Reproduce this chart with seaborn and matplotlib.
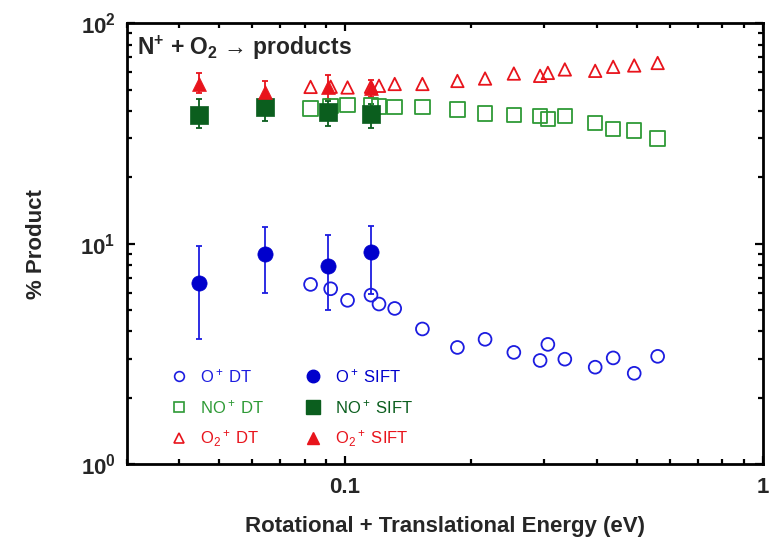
import numpy as np
import pandas as pd
import seaborn as sns
import matplotlib
matplotlib.use("Agg")
import matplotlib.pyplot as plt
from matplotlib.lines import Line2D
from matplotlib.ticker import LogLocator, FixedLocator, FixedFormatter, NullFormatter

# ---- data ----
dt_energy = [0.0827, 0.0924, 0.1014, 0.1154, 0.1206, 0.1315, 0.1532, 0.1858, 0.2164,
             0.2536, 0.2931, 0.3059, 0.3359, 0.3971, 0.4385, 0.4924, 0.5603]
dt_o_plus = [6.53, 6.24, 5.53, 5.84, 5.32, 5.08, 4.10, 3.38, 3.68,
             3.21, 2.95, 3.49, 2.99, 2.75, 3.03, 2.58, 3.08]
dt_no_plus = [41.0, 42.2, 42.5, 42.3, 42.0, 41.7, 41.7, 40.6, 38.9,
              38.4, 37.9, 36.8, 37.9, 35.3, 33.1, 32.6, 30.0]
dt_o2_plus = [51.4, 51.5, 51.1, 51.5, 52.0, 53.0, 53.0, 54.7, 56.1,
              59.1, 57.7, 59.5, 61.7, 60.8, 63.4, 64.3, 66.0]

sift_energy = [0.0446, 0.0643, 0.0911, 0.1156]
sift_o_plus = [6.60, 8.93, 7.91, 9.18]
sift_o_plus_lo = [3.68, 5.95, 4.98, 5.90]
sift_o_plus_hi = [9.71, 11.9, 10.9, 12.0]
sift_no_plus = [38.5, 41.5, 39.6, 38.9]
sift_no_plus_lo = [33.3, 36.0, 34.1, 33.3]
sift_no_plus_hi = [45.2, 44.8, 44.5, 43.2]
sift_o2_plus = [52.9, 48.8, 51.4, 50.6]
sift_o2_plus_lo = [48.0, 44.5, 45.5, 46.3]
sift_o2_plus_hi = [59.7, 54.8, 58.1, 55.5]

legend_labels_dt = ["O$^+$ DT", "NO$^+$ DT", "O$_2$$^+$ DT"]
legend_labels_sift = ["O$^+$ SIFT", "NO$^+$ SIFT", "O$_2$$^+$ SIFT"]
x_label = "Rotational + Translational Energy (eV)"
y_label = "% Product"
title_text = r"N$^{\mathbf{+}}$ + O$_{\mathbf{2}}$ → products"
xtick_values = [0.1, 1]
xtick_labels = ["0.1", "1"]
ytick_values = [1, 10, 100]
ytick_labels = [r"$\mathbf{10^0}$", r"$\mathbf{10^1}$", r"$\mathbf{10^2}$"]

# ---- style ----
sns.set_style("ticks")
plt.rcParams["font.family"] = ["Liberation Sans", "DejaVu Sans"]
plt.rcParams["mathtext.fontset"] = "custom"
plt.rcParams["mathtext.rm"] = "Liberation Sans"
plt.rcParams["mathtext.it"] = "Liberation Sans:italic"
plt.rcParams["mathtext.bf"] = "Liberation Sans:bold"

blue_open = "#1c1ce0"
blue_fill = "#0000cc"
green_open = "#2e9a36"
green_fill = "#0b5e1e"
red = "#e8141c"

fig = plt.figure(figsize=(7.72, 5.40), dpi=100)
ax = fig.add_axes([0.164, 0.1407, 0.824, 0.8163])
ax.set_xscale("log")
ax.set_yscale("log")

dt_df = pd.DataFrame({"energy": dt_energy, "O": dt_o_plus, "NO": dt_no_plus, "O2": dt_o2_plus})
sift_df = pd.DataFrame({"energy": sift_energy, "O": sift_o_plus, "NO": sift_no_plus, "O2": sift_o2_plus})

# open DT markers
sns.scatterplot(data=dt_df, x="energy", y="O", ax=ax, marker="o", s=85,
                facecolors="none", edgecolor=blue_open, linewidth=1.3, zorder=3)
sns.scatterplot(data=dt_df, x="energy", y="NO", ax=ax, marker="s", s=110,
                facecolors="none", edgecolor=green_open, linewidth=1.3, zorder=3)
sns.scatterplot(data=dt_df, x="energy", y="O2", ax=ax, marker="^", s=80,
                facecolors="none", edgecolor=red, linewidth=1.3, zorder=3)

# SIFT error bars
def errs(v, lo, hi):
    v = np.array(v); lo = np.array(lo); hi = np.array(hi)
    return np.vstack([v - lo, hi - v])

ax.errorbar(sift_energy, sift_o_plus, yerr=errs(sift_o_plus, sift_o_plus_lo, sift_o_plus_hi),
            fmt="none", ecolor=blue_open, elinewidth=1.3, capsize=2.5, capthick=1.3, zorder=2)
ax.errorbar(sift_energy, sift_no_plus, yerr=errs(sift_no_plus, sift_no_plus_lo, sift_no_plus_hi),
            fmt="none", ecolor=green_fill, elinewidth=1.3, capsize=2.5, capthick=1.3, zorder=2)
ax.errorbar(sift_energy, sift_o2_plus, yerr=errs(sift_o2_plus, sift_o2_plus_lo, sift_o2_plus_hi),
            fmt="none", ecolor=red, elinewidth=1.3, capsize=2.5, capthick=1.3, zorder=2)

# filled SIFT markers
sns.scatterplot(data=sift_df, x="energy", y="O", ax=ax, marker="o", s=120,
                color=blue_fill, edgecolor=blue_fill, linewidth=0.5, zorder=4)
sns.scatterplot(data=sift_df, x="energy", y="NO", ax=ax, marker="s", s=150,
                color=green_fill, edgecolor=green_fill, linewidth=0.5, zorder=4)
sns.scatterplot(data=sift_df, x="energy", y="O2", ax=ax, marker="^", s=100,
                color=red, edgecolor=red, linewidth=0.5, zorder=4)

# axes
ax.set_xlim(0.03, 1)
ax.set_ylim(1, 100)
for s in ax.spines.values():
    s.set_visible(True)
    s.set_linewidth(2)
    s.set_color("black")
ax.tick_params(which="both", direction="in", top=True, right=True, width=1.6, color="black")
ax.tick_params(which="major", length=6)
ax.tick_params(which="minor", length=3.5)
ax.xaxis.set_major_locator(FixedLocator(xtick_values))
ax.xaxis.set_major_formatter(FixedFormatter(xtick_labels))
ax.xaxis.set_minor_locator(LogLocator(base=10, subs=np.arange(2, 10)))
ax.xaxis.set_minor_formatter(NullFormatter())
ax.yaxis.set_major_locator(FixedLocator(ytick_values))
ax.yaxis.set_major_formatter(FixedFormatter(ytick_labels))
ax.yaxis.set_minor_locator(LogLocator(base=10, subs=np.arange(2, 10)))
ax.yaxis.set_minor_formatter(NullFormatter())
for lab in ax.get_xticklabels() + ax.get_yticklabels():
    lab.set_fontweight("bold")
    lab.set_fontsize(16)
ax.tick_params(axis="x", pad=9)
ax.tick_params(axis="y", pad=8)

ax.set_xlabel(x_label, fontsize=16, fontweight="bold", labelpad=13)
ax.set_ylabel(y_label, fontsize=16, fontweight="bold", labelpad=24)

ax.text(0.016, 0.945, title_text, transform=ax.transAxes, fontsize=16.5,
        fontweight="bold", ha="left", va="center")

# legend
handles = [
    Line2D([], [], linestyle="", marker="o", markersize=7, mfc="none", mec=blue_open, mew=1.2),
    Line2D([], [], linestyle="", marker="s", markersize=7.5, mfc="none", mec=green_open, mew=1.2),
    Line2D([], [], linestyle="", marker="^", markersize=6.5, mfc="none", mec=red, mew=1.2),
    Line2D([], [], linestyle="", marker="o", markersize=9, mfc=blue_fill, mec=blue_fill),
    Line2D([], [], linestyle="", marker="s", markersize=9.5, mfc=green_fill, mec=green_fill),
    Line2D([], [], linestyle="", marker="^", markersize=8, mfc=red, mec=red),
]
labels = legend_labels_dt + legend_labels_sift
leg = ax.legend(handles, labels, ncol=2, frameon=False, loc="lower left",
                bbox_to_anchor=(0.045, 0.0), fontsize=12, labelspacing=0.75,
                handletextpad=0.8, columnspacing=2.4, handlelength=1.0,
                labelcolor=[blue_open, green_open, red, blue_fill, green_fill, red])

fig.savefig("out.png", dpi=100)
